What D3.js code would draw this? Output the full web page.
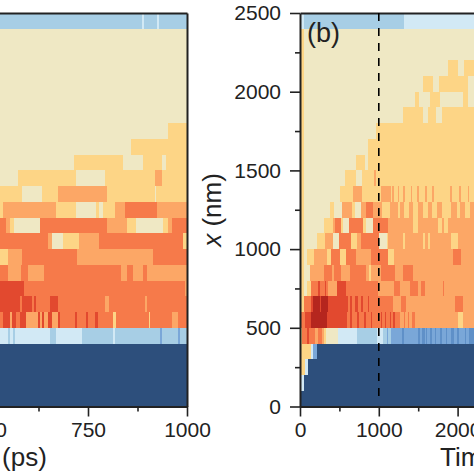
<!DOCTYPE html>
<html><head><meta charset="utf-8">
<script src="https://cdn.jsdelivr.net/npm/d3@7"></script>
<style>html,body{margin:0;padding:0;background:#fff;overflow:hidden}svg{display:block}
text{font-family:"Liberation Sans",Arial,sans-serif;fill:#222}</style></head><body>
<svg id="c" width="474" height="474"></svg>
<script>
// colour levels
const levels = [0,1,2,3,4,5,6,7,8,9,10];
const palette = ["#2d4f7c","#7aa7d8","#a7cee5","#d2e9f5","#efe8c4","#fdd586","#fca766","#f67a4a","#e2492f","#b5261e","#5f90c8"];
const yMajor = [0,500,1000,1500,2000,2500];
const yMinor = [250,750,1250,1750,2250];
const aMajor = [500,750,1000];
const aMinor = [625,875];
const bMajor = [0,1000,2000];
const bMinor = [500,1500];
const markerTime = 1000;
const binSize = 100;

// each row runs top (2400-2500 nm) to bottom; each entry = [end time, level]
const rowsA = [
 [[886,2],[892,3],[923,2],[929,3],[1000,2]],
 [[1000,4]],[[1000,4]],[[1000,4]],[[1000,4]],[[1000,4]],[[1000,4]],
 [[951,4],[1000,5]],
 [[859,4],[1000,5]],
 [[715,4],[838,5],[888,4],[937,5],[947,4],[1000,5]],
 [[574,4],[719,5],[793,4],[918,5],[938,6],[1000,5]],
 [[583,5],[633,4],[674,5],[799,6],[918,5],[922,4],[1000,5]],
 [[535,5],[668,6],[719,5],[770,4],[777,5],[789,4],[819,5],[844,6],[923,7],[1000,6]],
 [[543,7],[553,6],[564,5],[629,4],[799,7],[848,6],[871,5],[940,4],[953,5],[963,6],[1000,7]],
 [[648,7],[660,6],[688,4],[728,5],[779,6],[989,7],[1000,5]],
 [[549,5],[583,6],[723,7],[913,6],[1000,7]],
 [[547,7],[580,6],[599,7],[639,6],[833,7],[848,6],[863,7],[888,6],[898,7],[1000,6]],
 [[589,8],[994,7],[1000,6]],
 [[579,8],[584,7],[609,8],[614,7],[618,8],[653,7],[674,8],[792,7],[803,6],[893,7],[899,6],[1000,7]],
 [[535,7],[552,8],[559,6],[568,8],[579,7],[594,8],[623,6],[629,8],[634,6],[639,8],[648,6],[658,8],[674,6],[680,8],[718,7],[723,8],[744,7],[749,8],[768,7],[774,8],[813,7],[820,5],[903,7],[907,5],[962,7],[978,6],[1000,7]],
 [[547,3],[552,2],[560,3],[565,2],[654,3],[668,2],[734,3],[813,2],[818,3],[932,2],[937,1],[977,2],[983,1],[1000,2]],
 [[1000,0]],[[1000,0]],[[1000,0]],[[1000,0]]
];
const rowsB = [
 [[50,3],[1320,2],[2300,3]],
 [[50,5],[2300,4]],
 [[50,5],[2300,4]],
 [[50,5],[1874,4],[2009,5],[2081,4],[2300,5]],
 [[50,5],[1565,4],[1692,5],[1760,4],[2136,5],[2300,4]],
 [[50,5],[1459,4],[1510,5],[1650,4],[1777,5],[2073,4],[2136,5],[2300,4]],
 [[50,5],[1303,4],[1565,5],[1629,4],[1722,5],[1798,4],[2300,5]],
 [[50,5],[960,4],[2300,5]],
 [[50,5],[859,4],[2300,5]],
 [[50,5],[711,4],[825,5],[859,4],[2300,5]],
 [[50,5],[567,4],[715,5],[787,4],[939,5],[960,6],[2300,5]],
 [[50,5],[512,4],[673,5],[787,6],[1028,5],[1151,6],[1172,5],[1193,6],[1240,5],[1261,6],[1312,5],[1333,6],[1405,5],[1426,6],[1489,5],[1510,6],[1586,5],[1608,6],[1680,5],[1701,6],[1904,5],[1925,6],[2018,5],[2039,6],[2128,5],[2149,6],[2300,5]],
 [[50,5],[377,4],[432,5],[538,4],[660,6],[703,5],[779,4],[842,6],[927,7],[1036,6],[1142,5],[1248,6],[1269,5],[1324,6],[1383,5],[1438,6],[1502,5],[1557,6],[1620,5],[1680,6],[1735,5],[1798,6],[1916,5],[1988,6],[2031,5],[2094,6],[2158,5],[2300,6]],
 [[50,5],[305,4],[419,5],[447,6],[525,7],[546,5],[622,4],[800,7],[842,5],[927,4],[1121,7],[1438,6],[1502,5],[1756,6],[1798,5],[1832,6],[1874,5],[2300,6]],
 [[50,5],[220,4],[322,5],[415,6],[491,4],[643,7],[728,5],[779,6],[1003,7],[1100,4],[1121,5],[1312,6],[1333,5],[1565,6],[1586,5],[1620,6],[1650,5],[1916,6],[2010,5],[2300,6]],
 [[50,5],[93,4],[178,5],[347,6],[398,5],[504,7],[588,5],[715,7],[906,6],[1121,7],[1193,5],[1938,6],[2043,7],[2300,6]],
 [[50,5],[123,4],[305,6],[406,7],[432,6],[525,7],[631,6],[842,7],[880,6],[905,5],[1028,6],[1206,7],[1303,6],[1438,7],[2300,6]],
 [[50,5],[93,4],[136,5],[225,7],[250,8],[315,7],[335,8],[360,7],[470,6],[588,8],[994,7],[1197,6],[1269,7],[1396,6],[1493,7],[1536,6],[1587,7],[1811,6],[1832,7],[2300,6]],
 [[50,5],[135,7],[160,8],[250,9],[265,8],[350,9],[365,8],[613,8],[640,7],[665,8],[700,7],[740,8],[770,7],[800,8],[860,7],[880,8],[1185,7],[1282,6],[1341,7],[1967,6],[2073,7],[2300,6]],
 [[68,7],[144,8],[338,9],[592,8],[640,7],[660,8],[720,7],[750,8],[810,7],[835,8],[900,7],[920,8],[1030,7],[1040,8],[1085,7],[1095,8],[1140,7],[1150,8],[1180,7],[1200,8],[1270,7],[1315,6],[1330,7],[1370,6],[1385,7],[1420,6],[1460,7],[2001,6],[2073,5],[2300,6]],
 [[21,5],[85,7],[110,8],[190,7],[225,6],[275,7],[305,6],[335,5],[480,4],[719,3],[973,2],[1058,3],[1100,2],[1120,1],[1160,2],[1300,1],[1315,10],[1500,1],[1525,10],[1550,1],[1580,10],[1600,1],[1615,10],[1650,1],[1670,10],[1710,1],[1730,10],[1780,1],[1800,10],[1850,1],[1870,10],[1920,1],[1950,10],[1990,1],[2020,10],[2090,1],[2110,10],[2150,1],[2300,10]],
 [[136,5],[165,3],[220,1],[2300,0]],
 [[60,5],[102,3],[2300,0]],
 [[13,4],[51,3],[2300,0]],
 [[2300,0]]
];

const colour = d3.scaleOrdinal().domain(levels).range(palette);
const svg = d3.select("#c");
const top0 = 13, bot0 = 406.5;
const y = d3.scaleLinear().domain([0,2500]).range([bot0,top0]);
const xA = d3.scaleLinear().domain([0,1000]).range([-209,187]);
const xB = d3.scaleLinear().domain([0,2500]).range([300,497]);
const rowTop = i => 2500 - i*binSize;

function cells(rows, x, cls){
  const flat = rows.flatMap((r,i)=>{
    let s = 0;
    return r.map(([e,l])=>{ const c={i,s,e,l}; s=e; return c; });
  });
  svg.append("g").attr("class",cls).attr("shape-rendering","crispEdges").selectAll("rect").data(flat).join("rect")
    .attr("x",d=>x(d.s)).attr("width",d=>x(d.e)-x(d.s))
    .attr("y",d=>y(rowTop(d.i))).attr("height",d=>y(rowTop(d.i)-binSize)-y(rowTop(d.i))+0.5)
    .attr("fill",d=>colour(d.l));
}
cells(rowsA,xA,"a");
cells(rowsB,xB,"b");

const fs = 21;
function style(g){
  g.selectAll("path.domain").attr("stroke","#222").attr("stroke-width",2);
  g.selectAll("line").attr("stroke","#222").attr("stroke-width",1.6);
  g.selectAll("text").attr("font-size",fs).attr("fill","#222");
}
function bottom(x,maj,min){
  svg.append("g").attr("transform",`translate(0,${bot0})`)
    .call(d3.axisBottom(x).tickValues(min).tickSize(5).tickSizeOuter(0).tickFormat("")).call(style);
  const g = svg.append("g").attr("transform",`translate(0,${bot0})`)
    .call(d3.axisBottom(x).tickValues(maj).tickSize(10).tickSizeOuter(0).tickPadding(6).tickFormat(d3.format("d"))).call(style);
  g.selectAll("path.domain").remove();
}
bottom(xA,aMajor,aMinor);
bottom(xB,bMajor,bMinor);
// spines
svg.append("g").attr("transform",`translate(0,${top0})`).call(d3.axisTop(xA).tickValues([]).tickSizeOuter(0)).call(style);
svg.append("g").attr("transform",`translate(${xA(1000)},0)`).call(d3.axisRight(y).tickValues([]).tickSizeOuter(0)).call(style);
svg.append("g").attr("transform",`translate(0,${top0})`).call(d3.axisTop(xB).tickValues([]).tickSizeOuter(0)).call(style);
// left axis of (b)
svg.append("g").attr("transform",`translate(${xB(0)},0)`)
  .call(d3.axisLeft(y).tickValues(yMinor).tickSize(5).tickSizeOuter(0).tickFormat("")).call(style);
const ly = svg.append("g").attr("transform",`translate(${xB(0)},0)`)
  .call(d3.axisLeft(y).tickValues(yMajor).tickSize(10).tickSizeOuter(0).tickPadding(9).tickFormat(d3.format("d"))).call(style);
ly.selectAll("path.domain").remove();

// marker line
svg.append("line").attr("x1",xB(markerTime)).attr("x2",xB(markerTime))
  .attr("y1",y(2500)).attr("y2",y(30))
  .attr("stroke","#000").attr("stroke-width",1.6).attr("stroke-dasharray","8,7");

svg.append("text").attr("x",307).attr("y",42).attr("font-size",27).text("(b)");
svg.append("text").attr("x",-62).attr("y",466).attr("font-size",26).text("Time (ps)");
svg.append("text").attr("x",440).attr("y",466).attr("font-size",26).text("Time (ps)");
const yl = svg.append("text").attr("transform","translate(221,210) rotate(-90)")
  .attr("text-anchor","middle").attr("font-size",26);
yl.append("tspan").attr("font-style","italic").text("x");
yl.append("tspan").text(" (nm)");
</script></body></html>
